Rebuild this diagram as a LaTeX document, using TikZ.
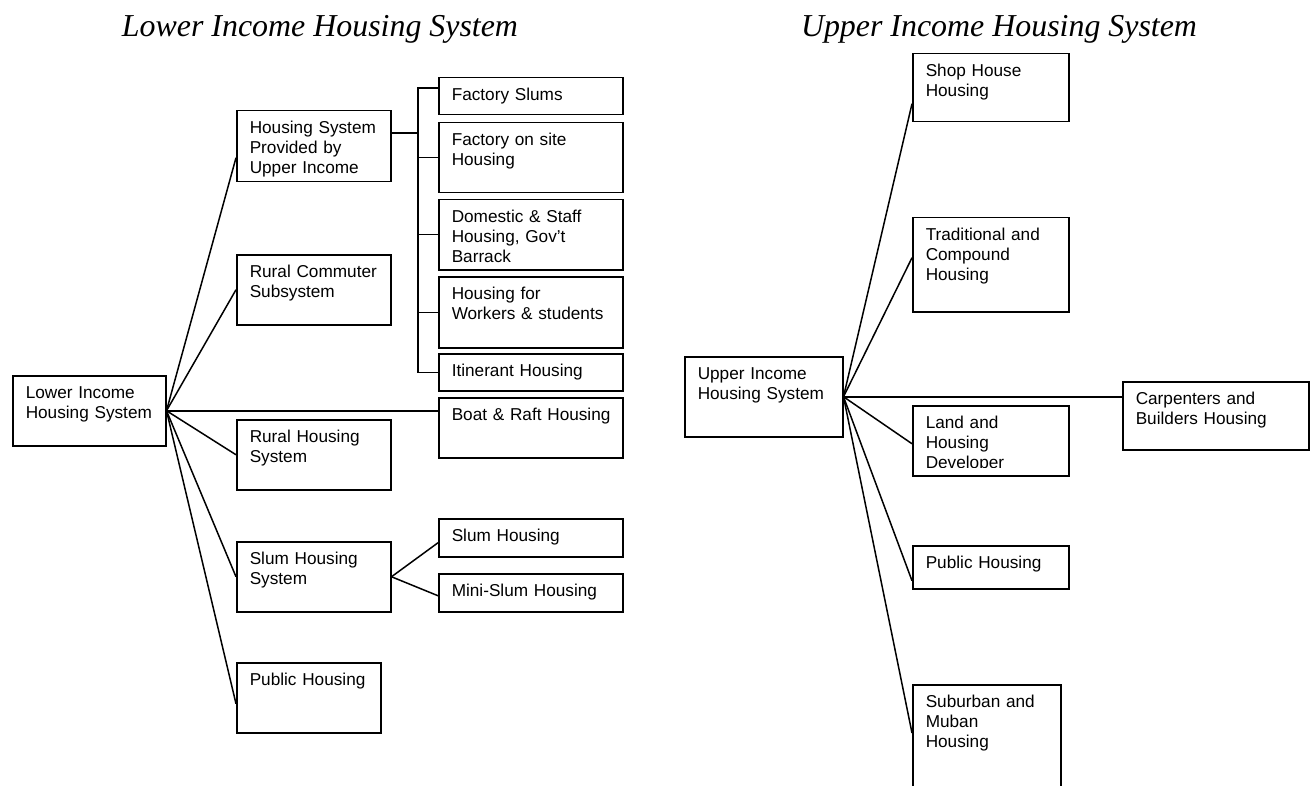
\documentclass[tikz,border=0pt]{standalone}
\usepackage{fontspec}
\newfontfamily\boxfont{Liberation Sans}
\newfontfamily\titlefont{Liberation Serif}
\hyphenpenalty=10000
\exhyphenpenalty=10000
\tikzset{
    hsbox/.style={draw, line width=1.5pt, anchor=north west, inner xsep=13pt, inner ysep=0pt,
        align=left, text height=23pt, text depth=47pt, font=\boxfont\fontsize{17.2}{20}\selectfont},
    link/.style={line width=1.5pt},
    heading/.style={anchor=base, font=\titlefont\itshape\fontsize{31.9}{36}\selectfont}
}

\begin{document}
\begin{tikzpicture}[x=1pt, y=-1pt]
        \useasboundingbox (0, 0) rectangle (1313, 786);
        \clip (0, 0) rectangle (1313, 786);

        \node[heading] (ltitle) at (320, 37) {Lower Income Housing System};
        \node[heading] (utitle) at (999, 37) {Upper Income Housing System};

        \node[hsbox, text width=127pt] (lroot) at (12, 375) {Lower Income\\Housing System};
        \node[hsbox, text width=128pt, text depth=48pt] (lprov) at (236, 110) {Housing System\\Provided by\\Upper Income};
        \node[hsbox, text width=128pt] (lcomm) at (236, 254) {Rural Commuter\\Subsystem};
        \node[hsbox, text width=128pt] (lrural) at (236, 419) {Rural Housing\\System};
        \node[hsbox, text width=128pt] (lslum) at (236, 541) {Slum Housing\\System};
        \node[hsbox, text width=118pt] (lpub) at (236, 662) {Public Housing};

        \node[hsbox, text width=158pt, text depth=14pt] (fslum) at (438, 77) {Factory Slums};
        \node[hsbox, text width=158pt] (fsite) at (438, 122) {Factory on site\\Housing};
        \node[hsbox, text width=158pt] (dom) at (438, 199) {Domestic \& Staff\\Housing, Gov’t\\Barrack};
        \node[hsbox, text width=158pt, text depth=48pt] (work) at (438, 276) {Housing for\\Workers \& students};
        \node[hsbox, text width=158pt, text depth=14pt] (itin) at (438, 353) {Itinerant Housing};
        \node[hsbox, text width=158pt, text depth=37pt] (boat) at (438, 397) {\mbox{Boat \& Raft Housing}};
        \node[hsbox, text width=158pt, text depth=15pt] (slumh) at (438, 518) {Slum Housing};
        \node[hsbox, text width=158pt, text depth=15pt] (mini) at (438, 573) {Mini-Slum Housing};

        \draw[link] (lroot.east) -- ([yshift=-11.5pt]lprov.west);
        \draw[link] (lroot.east) -- (lcomm.west);
        \draw[link] (lroot.east) -- (lroot.east -| boat.west);
        \draw[link] (lroot.east) -- (lrural.west);
        \draw[link] (lroot.east) -- (lslum.west);
        \draw[link] (lroot.east) -- ([yshift=-6pt]lpub.west);

        \coordinate (spine) at ([xshift=-20pt]fslum.west);
        \draw[link] ([yshift=13pt]lprov.east) -- ([yshift=13pt]lprov.east -| spine);
        \draw[link] ([yshift=-11pt]fslum.north west) -| (spine |- itin.west) -- (itin.west);
        \foreach \b in {fsite, dom, work}
            \draw[link] (\b.west) -- (\b.west -| spine);

        \draw[link] (lslum.east) -- ([yshift=-5pt]slumh.west);
        \draw[link] (lslum.east) -- ([yshift=-3pt]mini.west);

        \node[hsbox, text width=132pt, text depth=57pt] (uroot) at (684, 356) {Upper Income\\Housing System};
        \node[hsbox, text width=130pt, text depth=45pt] (shop) at (912, 53) {Shop House\\Housing};
        \node[hsbox, text width=130pt, text depth=71pt] (trad) at (912, 217) {Traditional and\\Compound\\Housing};
        \begin{scope}
            \clip (912, 405) rectangle (1068, 467);
            \node[hsbox, draw=none, text width=130pt] at (912, 405) {Land and\\Housing\\Developer};
        \end{scope}
        \node[hsbox, text width=130pt] (land) at (912, 405) {};
        \node[hsbox, text width=130pt, text depth=20pt] (upub) at (912, 545) {Public Housing};
        \node[hsbox, text width=122pt, text depth=101pt] (subm) at (912, 684) {Suburban and\\Muban\\Housing};
        \node[hsbox, text width=160pt, text depth=45pt] (carp) at (1122, 381) {Carpenters and\\Builders Housing};

        \draw[link] (uroot.east) -- ([yshift=-16pt]shop.west);
        \draw[link] (uroot.east) -- ([yshift=7pt]trad.west);
        \draw[link] (uroot.east) -- (uroot.east -| carp.west);
        \draw[link] (uroot.east) -- ([yshift=-3pt]land.west);
        \draw[link] (uroot.east) -- ([yshift=-13.5pt]upub.west);
        \draw[link] (uroot.east) -- ([yshift=-49pt]subm.north west);
    \end{tikzpicture}
\end{document}
